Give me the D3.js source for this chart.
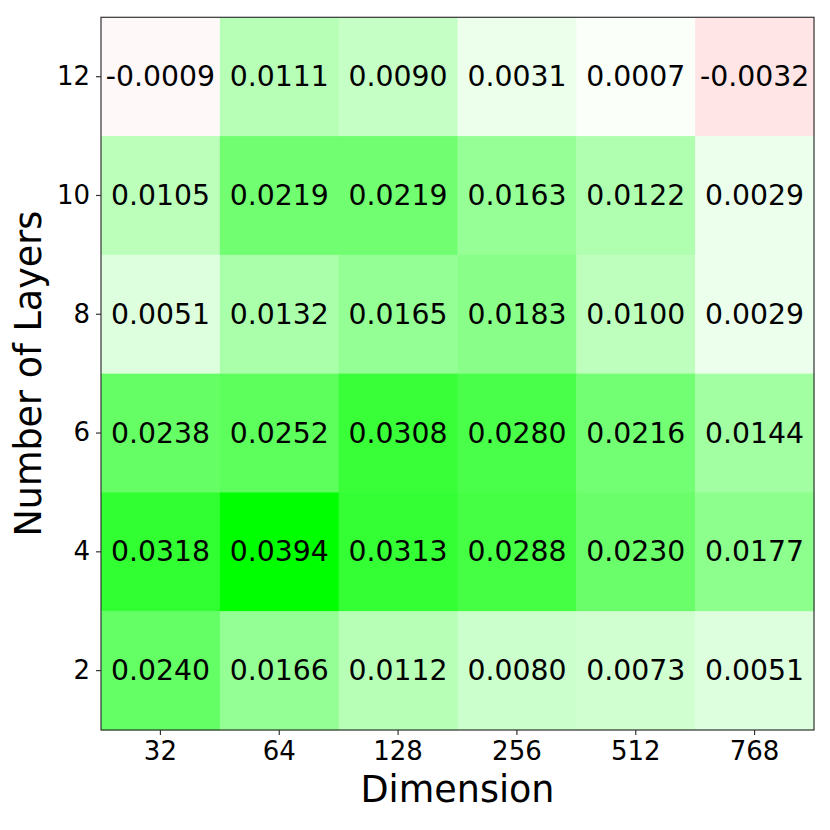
<!DOCTYPE html>
<html>
<head>
<meta charset="utf-8">
<script src="https://cdn.jsdelivr.net/npm/d3@7"></script>
<style>
  html, body { margin: 0; padding: 0; background: #fff; }
  svg { display: block; font-family: "DejaVu Sans", sans-serif; }
</style>
</head>
<body>
<svg id="chart" width="830" height="830"></svg>
<script>
const dimensions = ["32", "64", "128", "256", "512", "768"];
const layers = ["12", "10", "8", "6", "4", "2"];
const values = [
  [-0.0009, 0.0111, 0.0090, 0.0031, 0.0007, -0.0032],
  [0.0105, 0.0219, 0.0219, 0.0163, 0.0122, 0.0029],
  [0.0051, 0.0132, 0.0165, 0.0183, 0.0100, 0.0029],
  [0.0238, 0.0252, 0.0308, 0.0280, 0.0216, 0.0144],
  [0.0318, 0.0394, 0.0313, 0.0288, 0.0230, 0.0177],
  [0.0240, 0.0166, 0.0112, 0.0080, 0.0073, 0.0051]
];
const xLabel = "Dimension";
const yLabel = "Number of Layers";

const svg = d3.select("#chart");
const mLeft = 101, mRight = 814, mTop = 17.3, mBottom = 730;

const x = d3.scaleBand().domain(dimensions).range([mLeft, mRight]);
const y = d3.scaleBand().domain(layers).range([mTop, mBottom]);
const vmax = d3.max(values.flat());
const color = d3.scaleLinear()
  .domain([-0.0315, 0, vmax])
  .range(["#ff0000", "#ffffff", "#00ff00"])
  .clamp(true);

const cells = [];
layers.forEach((l, i) => dimensions.forEach((d, j) => cells.push({l, d, v: values[i][j]})));

svg.append("g").selectAll("rect").data(cells).join("rect")
  .attr("x", c => x(c.d))
  .attr("y", c => y(c.l))
  .attr("width", x.bandwidth() + 0.5)
  .attr("height", y.bandwidth() + 0.5)
  .attr("fill", c => color(c.v));

svg.append("g").selectAll("text").data(cells).join("text")
  .attr("x", c => x(c.d) + x.bandwidth() / 2)
  .attr("y", c => y(c.l) + y.bandwidth() / 2)
  .attr("text-anchor", "middle")
  .attr("dominant-baseline", "central")
  .attr("font-size", 28.3)
  .attr("fill", "#000")
  .text(c => c.v.toFixed(4));

// frame
svg.append("rect")
  .attr("x", mLeft).attr("y", mTop)
  .attr("width", mRight - mLeft).attr("height", mBottom - mTop)
  .attr("fill", "none").attr("stroke", "#333").attr("stroke-width", 1.2);

const xAxis = svg.append("g")
  .attr("transform", `translate(0,${mBottom})`)
  .call(d3.axisBottom(x).tickSize(5).tickPadding(7));
const yAxis = svg.append("g")
  .attr("transform", `translate(${mLeft},0)`)
  .call(d3.axisLeft(y).tickSize(5).tickPadding(6));
[xAxis, yAxis].forEach(g => {
  g.attr("font-size", 26).attr("font-family", "DejaVu Sans, sans-serif");
  g.select(".domain").remove();
  g.selectAll(".tick line").attr("stroke", "#333").attr("stroke-width", 1.2);
  g.selectAll(".tick text").attr("fill", "#000");
});

svg.append("text")
  .attr("x", (mLeft + mRight) / 2)
  .attr("y", 802)
  .attr("text-anchor", "middle")
  .attr("font-size", 36.5)
  .attr("fill", "#000")
  .text(xLabel);

svg.append("text")
  .attr("transform", `translate(41,${(mTop + mBottom) / 2}) rotate(-90)`)
  .attr("text-anchor", "middle")
  .attr("font-size", 36.5)
  .attr("fill", "#000")
  .text(yLabel);
</script>
</body>
</html>
